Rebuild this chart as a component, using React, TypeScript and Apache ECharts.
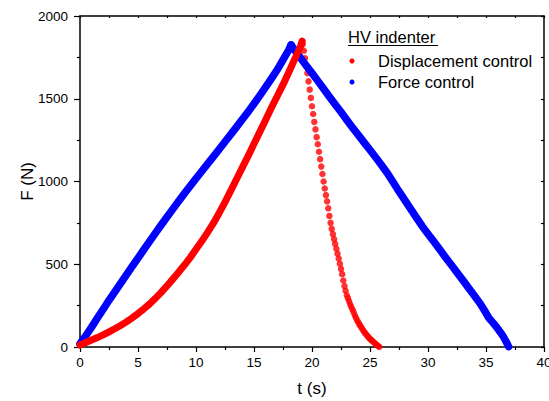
import React, { useEffect, useRef } from "react";
import * as echarts from "echarts";

// Force control (blue): loading ramp and unloading ramp, [t (s), F (N)]
const forceRise: [number, number][] = [
  [0, 20], [0.5, 68], [1, 120], [1.5, 175], [2, 228], [2.5, 282], [3, 333], [3.5, 385],
  [4, 436], [4.5, 487], [5, 537], [5.5, 588], [6, 638], [6.5, 688], [7, 737], [7.5, 785],
  [8, 833], [8.5, 880], [9, 927], [9.5, 973], [10, 1018], [10.5, 1062], [11, 1106], [11.5, 1150],
  [12, 1195], [12.5, 1240], [13, 1285], [13.5, 1330], [14, 1376], [14.5, 1422], [15, 1470],
  [15.5, 1519], [16, 1570], [16.5, 1622], [17, 1675], [17.5, 1735], [18, 1795], [18.2, 1825],
];
const forceFall: [number, number][] = [
  [18.2, 1825], [18.5, 1795], [19, 1748], [19.5, 1700], [20, 1655], [20.5, 1608], [21, 1560],
  [21.5, 1512], [22, 1465], [22.5, 1420], [23, 1372], [23.5, 1325], [24, 1280], [24.5, 1235],
  [25, 1190], [25.5, 1145], [26, 1098], [26.5, 1050], [27, 995], [27.5, 940], [28, 888],
  [28.5, 835], [29, 782], [29.5, 730], [30, 683], [30.5, 637], [31, 590], [31.5, 543],
  [32, 497], [32.5, 450], [33, 404], [33.5, 357], [34, 310], [34.5, 262], [35, 205],
  [35.25, 175], [35.5, 155], [35.75, 135], [36, 112], [36.25, 88], [36.5, 62], [36.75, 30],
  [36.95, 2],
];

// Displacement control (red)
const dispRise: [number, number][] = [
  [0, 12], [0.5, 27], [1, 42], [1.5, 57], [2, 73], [2.5, 91], [3, 110], [3.5, 130], [4, 152],
  [4.5, 176], [5, 202], [5.5, 230], [6, 260], [6.5, 294], [7, 330], [7.5, 369], [8, 410],
  [8.5, 452], [9, 495], [9.5, 540], [10, 590], [10.5, 640], [11, 693], [11.5, 748], [12, 810],
  [12.5, 876], [13, 945], [13.5, 1015], [14, 1085], [14.5, 1155], [15, 1228], [15.5, 1300],
  [16, 1372], [16.5, 1445], [17, 1515], [17.5, 1585], [18, 1660], [18.5, 1738], [19, 1815],
  [19.15, 1848],
];
const dispFall: [number, number][] = [
  [19.2, 1830], [19.3, 1790], [19.4, 1745], [19.5, 1700], [19.6, 1655], [19.7, 1605],
  [19.8, 1555], [19.9, 1505], [20.0, 1455], [20.1, 1408], [20.2, 1360], [20.3, 1315],
  [20.4, 1268], [20.5, 1225], [20.6, 1180], [20.7, 1135], [20.8, 1090], [20.9, 1045],
  [21.0, 1000], [21.1, 958], [21.2, 918], [21.3, 880], [21.4, 838], [21.5, 792], [21.6, 750],
  [21.7, 714], [21.8, 682], [21.9, 652], [22.0, 623], [22.1, 594], [22.2, 564], [22.3, 534],
  [22.4, 503], [22.5, 472], [22.6, 440], [22.7, 402], [22.8, 368], [22.9, 340], [23.0, 313],
  [23.1, 295], [23.2, 276], [23.3, 257], [23.4, 240], [23.5, 225], [23.6, 208], [23.7, 190],
  [23.8, 175], [23.9, 160], [24.0, 148], [24.1, 135], [24.2, 125], [24.3, 113], [24.4, 102],
  [24.5, 92], [24.6, 82], [24.7, 74], [24.8, 65], [24.9, 57], [25.0, 50], [25.1, 43],
  [25.2, 37], [25.3, 30], [25.4, 24], [25.5, 18], [25.6, 12], [25.7, 6], [25.8, 1],
];

const legendTitle = "HV indenter";
const seriesNames = ["Displacement control", "Force control"];
const RED = "#ff0000";
const BLUE = "#0000ff";
const FONT = "'Liberation Sans', Arial, Helvetica, sans-serif";

export default function App() {
  const ref = useRef<HTMLDivElement>(null);
  useEffect(() => {
    const chart = echarts.init(ref.current!, null, { renderer: "svg" });
    const axisLine = { show: true, onZero: false, lineStyle: { color: "#000", width: 1.5 } };
    const tickStyle = { color: "#000", width: 1.2 };
    const plain = (v: number) => String(v);
    chart.setOption({
      animation: false,
      backgroundColor: "#fff",
      textStyle: { fontFamily: FONT },
      grid: { left: 80, right: 5, top: 16, bottom: 54, outerBoundsMode: "none" },
      xAxis: [
        {
          type: "value", min: 0, max: 40, interval: 5, position: "bottom",
          name: "t (s)", nameLocation: "middle", nameGap: 33, nameMoveOverlap: false,
          nameTextStyle: { fontSize: 17, color: "#000", fontFamily: FONT },
          axisLine,
          axisTick: { show: true, inside: false, length: 5, lineStyle: tickStyle },
          minorTick: { show: true, splitNumber: 2, length: 3, lineStyle: tickStyle },
          axisLabel: {
            fontSize: 13.5, color: "#000", margin: 8, fontFamily: FONT, formatter: plain,
            alignMaxLabel: "center", alignMinLabel: "center",
          },
          splitLine: { show: false },
        },
        {
          type: "value", min: 0, max: 40, interval: 2.5, position: "top",
          axisLine,
          axisTick: { show: true, inside: true, length: 2, lineStyle: tickStyle },
          axisLabel: { show: false },
          splitLine: { show: false },
        },
      ],
      yAxis: [
        {
          type: "value", min: 0, max: 2000, interval: 500, position: "left",
          name: "F (N)", nameLocation: "middle", nameGap: 44, nameMoveOverlap: false,
          nameTextStyle: { fontSize: 17, color: "#000", fontFamily: FONT },
          axisLine,
          axisTick: { show: true, inside: false, length: 6, lineStyle: tickStyle },
          minorTick: { show: true, splitNumber: 2, length: 3, lineStyle: tickStyle },
          axisLabel: { fontSize: 13.5, color: "#000", margin: 12, fontFamily: FONT, formatter: plain },
          splitLine: { show: false },
        },
        {
          type: "value", min: 0, max: 2000, interval: 250, position: "right",
          axisLine,
          axisTick: { show: true, inside: true, length: 3, lineStyle: tickStyle },
          axisLabel: { show: false },
          splitLine: { show: false },
        },
      ],
      graphic: [
        {
          type: "text", x: 348, y: 37, z: 100,
          style: { text: legendTitle, fontSize: 16.5, fontFamily: FONT, fill: "#000", verticalAlign: "middle", align: "left" },
        },
        {
          type: "line", z: 100,
          shape: { x1: 348, y1: 45.5, x2: 438, y2: 45.5 },
          style: { stroke: "#000", lineWidth: 1 },
        },
        { type: "circle", z: 100, shape: { cx: 352, cy: 61, r: 2.5 }, style: { fill: RED } },
        {
          type: "text", x: 378, y: 61, z: 100,
          style: { text: seriesNames[0], fontSize: 16.5, fontFamily: FONT, fill: "#000", verticalAlign: "middle", align: "left" },
        },
        { type: "circle", z: 100, shape: { cx: 352, cy: 82, r: 2.5 }, style: { fill: BLUE } },
        {
          type: "text", x: 378, y: 82, z: 100,
          style: { text: seriesNames[1], fontSize: 16.5, fontFamily: FONT, fill: "#000", verticalAlign: "middle", align: "left" },
        },
      ],
      series: [
        {
          name: seriesNames[1], type: "line", data: forceRise, showSymbol: false, clip: false,
          lineStyle: { color: BLUE, width: 7.5, cap: "round", join: "round" },
        },
        {
          name: seriesNames[1], type: "line", data: forceFall, showSymbol: false, clip: false,
          lineStyle: { color: BLUE, width: 7.5, cap: "round", join: "round" },
        },
        {
          name: seriesNames[0], type: "line", data: dispRise, showSymbol: false, clip: false,
          lineStyle: { color: RED, width: 7, cap: "round", join: "round" },
        },
        {
          name: seriesNames[0], type: "scatter", data: dispFall, symbol: "circle", symbolSize: 6.5, clip: false,
          itemStyle: { color: RED },
        },
      ],
    });
    return () => chart.dispose();
  }, []);
  return <div ref={ref} style={{ position: "absolute", left: 0, top: 0, width: 549, height: 401 }} />;
}
